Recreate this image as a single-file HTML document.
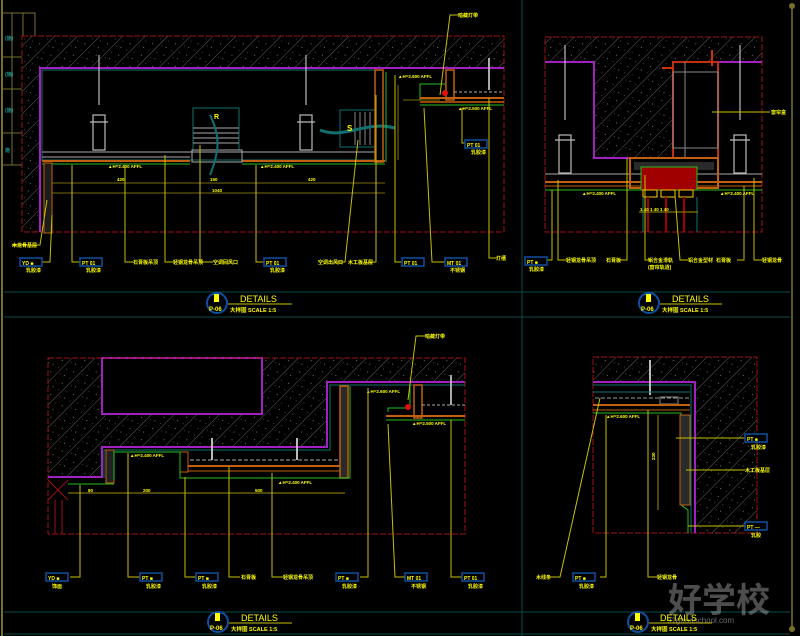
<!DOCTYPE html>
<html><head><meta charset="utf-8"><style>
html,body{margin:0;padding:0;background:#000;}
svg{display:block}
text{font-family:"Liberation Sans","Noto Sans CJK SC",sans-serif;fill:#ffff00;font-weight:bold}
</style></head><body>
<svg width="800" height="636" viewBox="0 0 800 636" xmlns="http://www.w3.org/2000/svg">
<defs>
<pattern id="h" width="16" height="16" patternUnits="userSpaceOnUse" patternTransform="rotate(-45)">
<rect width="16" height="16" fill="#000"/>
<line x1="0" y1="0" x2="16" y2="0" stroke="#777" stroke-width="0.8"/>
<circle cx="4" cy="7" r="0.5" fill="#999"/><circle cx="10" cy="4" r="0.4" fill="#999"/>
<circle cx="13" cy="11" r="0.5" fill="#999"/><circle cx="6" cy="13" r="0.4" fill="#999"/><circle cx="2" cy="3" r="0.4" fill="#999"/>
</pattern>
</defs>
<rect width="800" height="636" fill="#000"/>
<!-- frame -->
<line x1="2" y1="0" x2="2" y2="636" stroke="#77702a" stroke-width="2"/>
<line x1="792" y1="5" x2="792" y2="630" stroke="#77702a" stroke-width="1.5"/>
<circle cx="792" cy="6" r="3" fill="#77702a"/><circle cx="792" cy="629" r="3" fill="#77702a"/>
<line x1="522" y1="0" x2="522" y2="636" stroke="#0b4a4a" stroke-width="1"/>
<line x1="4" y1="292" x2="790" y2="292" stroke="#0b4a4a"/>
<line x1="4" y1="317" x2="790" y2="317" stroke="#0b4a4a"/>
<line x1="4" y1="612" x2="790" y2="612" stroke="#0b4a4a"/>
<line x1="4" y1="634" x2="790" y2="634" stroke="#0b4a4a"/>
<g fill="none" stroke="#77702a"><rect x="2" y="13" width="33" height="152"/><line x1="12" y1="13" x2="12" y2="165"/><line x1="23" y1="13" x2="23" y2="165"/><line x1="2" y1="57" x2="35" y2="57"/><line x1="2" y1="89" x2="35" y2="89"/><line x1="2" y1="133" x2="35" y2="133"/></g>
<g fill="#1a9a9a" font-size="5"><text x="5" y="40" style="fill:#1a9a9a">(施)</text><text x="5" y="76" style="fill:#1a9a9a">(施)</text><text x="5" y="112" style="fill:#1a9a9a">(施)</text><text x="5" y="152" style="fill:#1a9a9a">施</text></g>

<!-- ===== TOP LEFT ===== -->
<rect x="22" y="36" width="482" height="32" fill="url(#h)"/>
<rect x="22" y="68" width="18" height="164" fill="url(#h)"/>
<rect x="22" y="36" width="482" height="196" fill="none" stroke="#a01010" stroke-dasharray="6,2"/>
<polyline points="40,232 40,68 504,68" fill="none" stroke="#a020c0" stroke-width="2"/>
<rect x="42" y="70" width="333" height="90" fill="none" stroke="#127070"/>
<line x1="42" y1="152" x2="375" y2="152" stroke="#aaa"/>
<line x1="42" y1="157" x2="190" y2="157" stroke="#aaa"/>
<line x1="42" y1="161" x2="190" y2="161" stroke="#c06010" stroke-width="2"/>
<line x1="242" y1="161" x2="385" y2="161" stroke="#c06010" stroke-width="2"/>
<line x1="42" y1="164" x2="190" y2="164" stroke="#20c020"/>
<line x1="242" y1="164" x2="385" y2="164" stroke="#20c020"/>
<rect x="44" y="163" width="8" height="70" fill="#1c1c1c" stroke="#c06010"/>
<g stroke="#bbb" fill="none" stroke-width="1.2">
<line x1="99" y1="55" x2="99" y2="105"/><rect x="93" y="115" width="12" height="35"/><line x1="90" y1="122" x2="108" y2="122"/>
<line x1="306" y1="55" x2="306" y2="105"/><rect x="300" y="115" width="12" height="35"/><line x1="297" y1="122" x2="315" y2="122"/>
</g>
<rect x="193" y="108" width="46" height="42" fill="none" stroke="#127070"/>
<g stroke="#aaa"><line x1="193" y1="128" x2="239" y2="128"/><line x1="193" y1="133" x2="239" y2="133"/><line x1="193" y1="138" x2="239" y2="138"/><line x1="193" y1="143" x2="239" y2="143"/></g>
<rect x="192" y="150" width="50" height="12" fill="none" stroke="#aaa"/>
<path d="M210,175 C220,150 220,135 210,115" fill="none" stroke="#127070" stroke-width="2"/>
<rect x="340" y="110" width="35" height="37" fill="none" stroke="#127070"/>
<g stroke="#888"><line x1="355" y1="112" x2="355" y2="145"/><line x1="360" y1="112" x2="360" y2="145"/><line x1="365" y1="112" x2="365" y2="145"/><line x1="370" y1="112" x2="370" y2="145"/></g>
<path d="M320,130 C345,140 365,120 395,128" fill="none" stroke="#127070" stroke-width="3"/>
<text x="347" y="131" font-size="8">S</text><text x="214" y="119" font-size="7">R</text>
<rect x="375" y="70" width="8" height="92" fill="none" stroke="#c06010" stroke-width="1.5"/>
<line x1="386" y1="72" x2="386" y2="162" stroke="#20c020"/>
<polyline points="420,100 420,84 446,84 446,72" fill="none" stroke="#20c020"/>
<rect x="446" y="70" width="8" height="30" fill="none" stroke="#c06010" stroke-width="1.5"/>
<line x1="454" y1="92" x2="504" y2="92" stroke="#aaa" stroke-dasharray="3,2"/>
<line x1="420" y1="98" x2="504" y2="98" stroke="#c06010" stroke-width="2"/>
<line x1="420" y1="102" x2="504" y2="102" stroke="#c06010" stroke-width="1.5"/>
<line x1="420" y1="105" x2="504" y2="105" stroke="#20c020"/>
<line x1="489" y1="58" x2="489" y2="90" stroke="#aaa" stroke-width="2"/>
<circle cx="445" cy="93" r="3" fill="#e01010"/>
<g stroke="#a09000" stroke-width="0.8"><line x1="52" y1="183" x2="385" y2="183"/><line x1="52" y1="193" x2="385" y2="193"/><line x1="398" y1="85" x2="398" y2="160"/><line x1="403" y1="100" x2="440" y2="100"/></g>
<g font-size="4.5"><text x="117" y="181">420</text><text x="210" y="181">150</text><text x="308" y="181">420</text><text x="212" y="192">1040</text><text x="108" y="168">▲H=2.400 AFFL</text><text x="260" y="168">▲H=2.400 AFFL</text><text x="398" y="78">▲H=2.600 AFFL</text><text x="458" y="110">▲H=2.500 AFFL</text></g>
<g stroke="#c8c000" fill="none" stroke-width="1">
<polyline points="47,200 40,245 12,245"/>
<polyline points="52,215 50,262 42,262"/>
<polyline points="72,165 72,262 80,262"/>
<polyline points="125,165 125,262 133,262"/>
<polyline points="165,155 165,262 173,262"/>
<polyline points="200,145 200,262 213,262"/>
<polyline points="256,165 256,262 264,262"/>
<polyline points="358,140 345,262 337,262"/>
<polyline points="376,95 376,262 368,262"/>
<polyline points="395,75 395,262 402,262"/>
<polyline points="424,108 432,262 445,262"/>
<polyline points="462,108 462,143 470,143"/>
<polyline points="489,98 489,258 496,258"/>
<polyline points="440,95 450,15 458,15"/>
</g>
<g fill="#000" stroke="#1050a0" stroke-width="1.5"><rect x="20" y="258" width="22" height="8"/><rect x="80" y="258" width="22" height="8"/><rect x="264" y="258" width="22" height="8"/><rect x="402" y="258" width="22" height="8"/><rect x="445" y="258" width="22" height="8"/><rect x="465" y="140" width="22" height="8"/></g>
<g font-size="5"><text x="22" y="265">YD  ■</text><text x="82" y="265">PT  01</text><text x="266" y="265">PT  01</text><text x="404" y="265">PT  01</text><text x="447" y="265">MT  01</text><text x="467" y="147">PT  01</text>
<text x="26" y="272">乳胶漆</text><text x="86" y="272">乳胶漆</text><text x="270" y="272">乳胶漆</text><text x="450" y="272">不锈钢</text><text x="471" y="154">乳胶漆</text>
<text x="12" y="247">木龙骨基层</text><text x="133" y="264">石膏板吊顶</text><text x="173" y="264">轻钢龙骨吊顶</text><text x="213" y="264">空调回风口</text><text x="318" y="264">空调出风口</text><text x="348" y="264">木工板基层</text><text x="496" y="260">灯槽</text><text x="458" y="17">暗藏灯带</text></g>
<circle cx="217" cy="303" r="10" fill="#000" stroke="#1050a0" stroke-width="2"/><rect x="214" y="294" width="5" height="8" fill="#ff0"/>
<text x="209" y="311" font-size="6">P-06</text>
<text x="240" y="302" font-size="9" style="font-weight:normal">DETAILS</text>
<line x1="228" y1="304" x2="292" y2="304" stroke="#c8c000"/>
<text x="230" y="312" font-size="5.5">大样图  SCALE 1:5</text>

<!-- ===== TOP RIGHT ===== -->
<rect x="545" y="37" width="217" height="25" fill="url(#h)"/>
<rect x="594" y="62" width="80" height="96" fill="url(#h)"/>
<rect x="545" y="37" width="217" height="195" fill="none" stroke="#a01010" stroke-dasharray="6,2"/>
<polyline points="545,62 594,62 594,158 630,158" fill="none" stroke="#a020c0" stroke-width="2"/>
<line x1="718" y1="62" x2="762" y2="62" stroke="#a020c0" stroke-width="2"/>
<rect x="673" y="62" width="45" height="96" fill="#000" stroke="#c03010" stroke-width="2"/>
<rect x="673" y="72" width="45" height="76" fill="none" stroke="#888"/>
<line x1="685" y1="62" x2="685" y2="158" stroke="#888"/>
<g stroke="#d03010" stroke-width="2"><line x1="662" y1="68" x2="674" y2="68"/><line x1="712" y1="50" x2="712" y2="66"/></g>
<g stroke="#bbb" fill="none" stroke-width="1.2">
<line x1="565" y1="45" x2="565" y2="120"/><rect x="559" y="135" width="12" height="38"/><line x1="555" y1="140" x2="575" y2="140"/>
<line x1="740" y1="45" x2="740" y2="120"/><rect x="734" y="135" width="12" height="38"/><line x1="730" y1="140" x2="750" y2="140"/>
</g>
<line x1="545" y1="174" x2="762" y2="174" stroke="#aaa"/>
<line x1="545" y1="182" x2="762" y2="182" stroke="#c06010" stroke-width="2"/>
<line x1="545" y1="186" x2="762" y2="186" stroke="#c06010"/>
<line x1="545" y1="190" x2="762" y2="190" stroke="#20c020"/>
<rect x="630" y="158" width="88" height="30" fill="none" stroke="#c06010" stroke-width="2"/>
<rect x="634" y="162" width="80" height="8" fill="#2a2a2a"/>
<rect x="641" y="167" width="56" height="23" fill="#a00000" stroke="#20c020"/>
<g fill="none" stroke="#ffcc00"><rect x="643" y="190" width="14" height="7"/><rect x="661" y="190" width="14" height="7"/><rect x="679" y="190" width="14" height="7"/></g>
<g stroke="#a00000" stroke-width="2"><line x1="648" y1="197" x2="648" y2="232"/><line x1="666" y1="197" x2="666" y2="232"/><line x1="684" y1="197" x2="684" y2="232"/></g>
<g stroke="#127070"><line x1="643" y1="197" x2="643" y2="232"/><line x1="697" y1="197" x2="697" y2="232"/></g>
<line x1="639" y1="212" x2="698" y2="212" stroke="#a09000"/>
<g font-size="4.5"><text x="582" y="195">▲H=2.400 AFFL</text><text x="720" y="195">▲H=2.400 AFFL</text><text x="640" y="211">1 40 1 40 1 40</text></g>
<g stroke="#c8c000" fill="none">
<polyline points="552,190 552,260 545,260"/><polyline points="558,180 558,260 566,260"/>
<polyline points="627,158 627,260 620,260"/><polyline points="645,175 645,260 652,260"/>
<polyline points="675,195 680,260 688,260"/><polyline points="744,186 744,260 737,260"/>
<polyline points="754,178 754,260 762,260"/><line x1="712" y1="112" x2="770" y2="112"/>
</g>
<rect x="525" y="257" width="22" height="8" fill="#000" stroke="#1050a0" stroke-width="1.5"/>
<g font-size="5"><text x="527" y="264">PT  ■</text><text x="529" y="271">乳胶漆</text><text x="566" y="262">轻钢龙骨吊顶</text><text x="606" y="262">石膏板</text><text x="648" y="262">铝合金滑轨</text><text x="648" y="269">(窗帘轨道)</text><text x="688" y="262">铝合金型材</text><text x="716" y="262">石膏板</text><text x="762" y="262">轻钢龙骨</text><text x="771" y="114">窗帘盒</text></g>
<circle cx="649" cy="303" r="10" fill="#000" stroke="#1050a0" stroke-width="2"/><rect x="646" y="294" width="5" height="8" fill="#ff0"/>
<text x="641" y="311" font-size="6">P-06</text>
<text x="672" y="302" font-size="9" style="font-weight:normal">DETAILS</text>
<line x1="660" y1="304" x2="722" y2="304" stroke="#c8c000"/>
<text x="662" y="312" font-size="5.5">大样图  SCALE 1:5</text>

<!-- ===== BOTTOM LEFT ===== -->
<path d="M48,358 L465,358 L465,382 L327,382 L327,447 L102,447 L102,477 L48,477 Z" fill="url(#h)"/>
<rect x="102" y="358" width="160" height="56" fill="#000" stroke="#a020c0" stroke-width="2"/>
<rect x="48" y="358" width="417" height="176" fill="none" stroke="#a01010" stroke-dasharray="6,2"/>
<polyline points="48,477 102,477 102,447 327,447 327,382 465,382" fill="none" stroke="#a020c0" stroke-width="2"/>
<polyline points="104,478 104,450 330,450 330,385 465,385" fill="none" stroke="#127070"/>
<g stroke="#a01010"><line x1="48" y1="480" x2="68" y2="500"/><line x1="68" y1="480" x2="48" y2="500"/><line x1="55" y1="500" x2="55" y2="534"/><line x1="62" y1="500" x2="62" y2="534"/></g>
<rect x="106" y="450" width="8" height="33" fill="#222" stroke="#c06010"/>
<rect x="180" y="452" width="8" height="20" fill="none" stroke="#c06010"/>
<rect x="340" y="386" width="8" height="92" fill="#2a2a2a" stroke="#c06010" stroke-width="1.5"/>
<polyline points="114,480 114,452 180,452 180,478 350,478 350,386" fill="none" stroke="#20c020"/>
<line x1="68" y1="484" x2="114" y2="484" stroke="#20c020"/>
<line x1="188" y1="466" x2="340" y2="466" stroke="#c06010" stroke-width="2"/>
<line x1="188" y1="471" x2="340" y2="471" stroke="#c06010"/>
<line x1="190" y1="460" x2="338" y2="460" stroke="#aaa" stroke-dasharray="4,2"/>
<g stroke="#bbb" stroke-width="2"><line x1="212" y1="438" x2="212" y2="460"/><line x1="297" y1="438" x2="297" y2="460"/></g>
<rect x="414" y="385" width="8" height="33" fill="none" stroke="#c06010" stroke-width="1.5"/>
<polyline points="388,412 388,408 410,408 410,385" fill="none" stroke="#20c020"/>
<line x1="422" y1="405" x2="465" y2="405" stroke="#aaa" stroke-dasharray="3,2"/>
<line x1="386" y1="416" x2="465" y2="416" stroke="#c06010" stroke-width="2"/>
<line x1="386" y1="420" x2="465" y2="420" stroke="#20c020"/>
<line x1="451" y1="375" x2="451" y2="405" stroke="#aaa" stroke-width="2"/>
<circle cx="408" cy="407" r="3" fill="#e01010"/>
<line x1="68" y1="493" x2="345" y2="493" stroke="#a09000"/>
<g font-size="4.5"><text x="88" y="492">80</text><text x="143" y="492">200</text><text x="255" y="492">500</text><text x="130" y="457">▲H=2.400 AFFL</text><text x="278" y="484">▲H=2.400 AFFL</text><text x="366" y="393">▲H=2.600 AFFL</text><text x="412" y="425">▲H=2.500 AFFL</text></g>
<g stroke="#c8c000" fill="none">
<polyline points="80,485 80,577 70,577"/><polyline points="128,453 128,577 140,577"/>
<polyline points="185,477 185,577 196,577"/><polyline points="229,467 229,577 240,577"/>
<polyline points="272,473 272,577 283,577"/><polyline points="368,388 368,577 360,577"/>
<polyline points="388,424 395,577 405,577"/><polyline points="451,420 451,577 462,577"/>
<polyline points="408,400 416,336 425,336"/>
</g>
<g fill="#000" stroke="#1050a0" stroke-width="1.5"><rect x="46" y="573" width="22" height="8"/><rect x="140" y="573" width="22" height="8"/><rect x="196" y="573" width="22" height="8"/><rect x="336" y="573" width="22" height="8"/><rect x="405" y="573" width="22" height="8"/><rect x="462" y="573" width="22" height="8"/></g>
<g font-size="5"><text x="48" y="580">YD  ■</text><text x="142" y="580">PT  ■</text><text x="198" y="580">PT  ■</text><text x="338" y="580">PT  ■</text><text x="407" y="580">MT  01</text><text x="464" y="580">PT  01</text>
<text x="52" y="588">饰面</text><text x="146" y="588">乳胶漆</text><text x="202" y="588">乳胶漆</text><text x="342" y="588">乳胶漆</text><text x="411" y="588">不锈钢</text><text x="468" y="588">乳胶漆</text>
<text x="241" y="579">石膏板</text><text x="283" y="579">轻钢龙骨吊顶</text><text x="425" y="338">暗藏灯带</text></g>
<circle cx="218" cy="622" r="10" fill="#000" stroke="#1050a0" stroke-width="2"/><rect x="215" y="613" width="5" height="8" fill="#ff0"/>
<text x="210" y="630" font-size="6">P-06</text>
<text x="241" y="621" font-size="9" style="font-weight:normal">DETAILS</text>
<line x1="229" y1="623" x2="292" y2="623" stroke="#c8c000"/>
<text x="231" y="631" font-size="5.5">大样图  SCALE 1:5</text>

<!-- ===== BOTTOM RIGHT ===== -->
<path d="M593,357 L757,357 L757,533 L695,533 L695,382 L593,382 Z" fill="url(#h)"/>
<rect x="593" y="357" width="164" height="176" fill="none" stroke="#a01010" stroke-dasharray="6,2"/>
<polyline points="593,382 695,382 695,533" fill="none" stroke="#a020c0" stroke-width="2"/>
<polyline points="593,385 691,385 691,533" fill="none" stroke="#127070"/>
<line x1="650" y1="360" x2="650" y2="395" stroke="#bbb" stroke-width="2"/>
<line x1="593" y1="392" x2="690" y2="392" stroke="#127070"/>
<line x1="595" y1="398" x2="690" y2="398" stroke="#999" stroke-dasharray="4,2"/>
<rect x="660" y="397" width="18" height="7" fill="none" stroke="#888"/>
<line x1="593" y1="405" x2="690" y2="405" stroke="#c06010" stroke-width="2"/>
<line x1="593" y1="410" x2="690" y2="410" stroke="#c06010"/>
<polyline points="593,413 681,413 681,505 688,510 688,533" fill="none" stroke="#20c020"/>
<rect x="680" y="415" width="10" height="90" fill="#2a2a2a" stroke="#c06010"/>
<line x1="658" y1="415" x2="658" y2="510" stroke="#a09000"/>
<g font-size="4.5"><text x="606" y="418">▲H=2.600 AFFL</text><text x="655" y="460" transform="rotate(-90 655 460)">230</text></g>
<g stroke="#c8c000" fill="none">
<polyline points="600,398 560,577 550,577"/><polyline points="606,415 606,577 600,577"/>
<polyline points="648,410 648,577 657,577"/><line x1="676" y1="438" x2="745" y2="438"/>
<line x1="686" y1="470" x2="745" y2="470"/><line x1="688" y1="526" x2="745" y2="526"/>
</g>
<g fill="#000" stroke="#1050a0" stroke-width="1.5"><rect x="573" y="573" width="22" height="8"/><rect x="745" y="434" width="22" height="8"/><rect x="745" y="522" width="22" height="8"/></g>
<g font-size="5"><text x="575" y="580">PT  ■</text><text x="579" y="588">乳胶漆</text><text x="747" y="441">PT  ■</text><text x="751" y="449">乳胶漆</text><text x="747" y="529">PT  —</text><text x="751" y="537">乳胶</text>
<text x="536" y="579">木线条</text><text x="657" y="579">轻钢龙骨</text><text x="745" y="472">木工板基层</text></g>
<text x="668" y="612" font-size="34" style="fill:#fff;opacity:0.3;font-weight:bold">好学校</text>
<text x="667" y="623" font-size="8" style="fill:#fff;opacity:0.4;font-weight:normal">91goodschool.com</text>
<circle cx="638" cy="622" r="10" fill="#000" stroke="#1050a0" stroke-width="2"/><rect x="635" y="613" width="5" height="8" fill="#ff0"/>
<text x="630" y="630" font-size="6">P-06</text>
<text x="660" y="621" font-size="9" style="font-weight:normal">DETAILS</text>
<line x1="649" y1="623" x2="712" y2="623" stroke="#c8c000"/>
<text x="651" y="631" font-size="5.5">大样图  SCALE 1:5</text>
</svg>
</body></html>
